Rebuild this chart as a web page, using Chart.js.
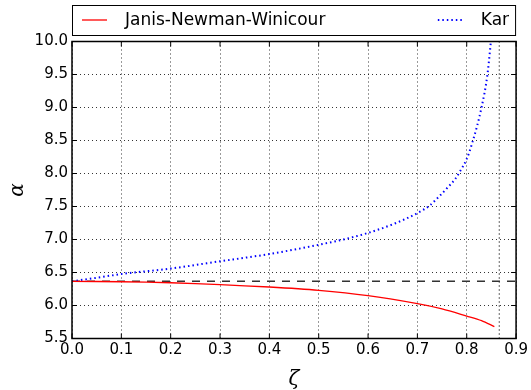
<!DOCTYPE html>
<html>
<head>
<meta charset="utf-8">
<script src="https://cdn.jsdelivr.net/npm/chart.js@4"></script>
<style>
  html, body { margin: 0; padding: 0; background: #fff; }
  #chart { display: block; }
</style>
</head>
<body>
<canvas id="chart" width="531" height="390"></canvas>
<script>
// values
const jnwZeta = [0, 0.1, 0.2, 0.3, 0.4, 0.5, 0.6, 0.7, 0.75, 0.8, 0.83, 0.856];
const jnwAlpha = [6.366, 6.36, 6.345, 6.315, 6.28, 6.23, 6.15, 6.03, 5.95, 5.84, 5.77, 5.68];

const karZeta = [0, 0.05, 0.1, 0.2, 0.3, 0.4, 0.5, 0.55, 0.6, 0.65, 0.7, 0.724, 0.747, 0.761, 0.776, 0.787, 0.8, 0.811, 0.83, 0.842, 0.849];
const karAlpha = [6.366, 6.42, 6.477, 6.56, 6.67, 6.78, 6.92, 7.0, 7.1, 7.23, 7.4, 7.51, 7.675, 7.785, 7.91, 8.04, 8.22, 8.46, 9.0, 9.5, 10.0];

const refLevel = 6.366;   // dashed horizontal line
const limitZeta = 0.866;  // dotted vertical line

const xTicks = [0, 0.1, 0.2, 0.3, 0.4, 0.5, 0.6, 0.7, 0.8, 0.9];
const yTicks = [5.5, 6.0, 6.5, 7.0, 7.5, 8.0, 8.5, 9.0, 9.5, 10.0];

const toPoints = (xs, ys) => xs.map((x, i) => ({ x, y: ys[i] }));

const tickFont = { family: 'DejaVu Sans', size: 15 };

// inward ticks on all four sides + full black frame
const framePlugin = {
  id: 'frame',
  afterDraw(chart) {
    const { ctx, chartArea: a, scales } = chart;
    ctx.save();
    ctx.strokeStyle = '#000';
    ctx.lineWidth = 1;
    const len = 5;
    xTicks.forEach(v => {
      const px = scales.x.getPixelForValue(v);
      ctx.beginPath();
      ctx.moveTo(px, a.bottom); ctx.lineTo(px, a.bottom - len);
      ctx.moveTo(px, a.top); ctx.lineTo(px, a.top + len);
      ctx.stroke();
    });
    yTicks.forEach(v => {
      const py = scales.y.getPixelForValue(v);
      ctx.beginPath();
      ctx.moveTo(a.left, py); ctx.lineTo(a.left + len, py);
      ctx.moveTo(a.right, py); ctx.lineTo(a.right - len, py);
      ctx.stroke();
    });
    ctx.lineWidth = 1.5;
    ctx.strokeRect(a.left, a.top, a.right - a.left, a.bottom - a.top);
    ctx.restore();
  }
};

// matplotlib-style expanded legend box above the plot
const legendPlugin = {
  id: 'boxLegend',
  afterDraw(chart) {
    const { ctx, chartArea: a } = chart;
    const items = chart.data.datasets.filter(d => d.label);
    const top = 5, h = 30, mid = top + h / 2;
    ctx.save();
    ctx.fillStyle = '#fff';
    ctx.fillRect(a.left, top, a.right - a.left, h);
    ctx.strokeStyle = '#000';
    ctx.lineWidth = 1;
    ctx.strokeRect(a.left + 0.5, top + 0.5, a.right - a.left - 1, h);
    ctx.font = '17px "DejaVu Sans"';
    ctx.textBaseline = 'middle';

    // first entry on the left, last entry pushed to the right edge
    const drawItem = (d, x0) => {
      ctx.strokeStyle = d.borderColor;
      ctx.lineWidth = d.borderWidth;
      ctx.setLineDash(d.borderDash || []);
      ctx.beginPath();
      ctx.moveTo(x0, mid); ctx.lineTo(x0 + 25, mid);
      ctx.stroke();
      ctx.setLineDash([]);
      ctx.fillStyle = '#000';
      ctx.fillText(d.label, x0 + 43, mid + 1);
    };
    drawItem(items[0], a.left + 10);
    const w = ctx.measureText(items[1].label).width;
    drawItem(items[1], a.right - 7 - w - 43);
    ctx.restore();
  }
};

const gridStyle = {
  color: '#000',
  lineWidth: 0.8,
  drawTicks: false,
};

new Chart(document.getElementById('chart'), {
  type: 'scatter',
  data: {
    datasets: [
      {
        label: 'Janis-Newman-Winicour',
        data: toPoints(jnwZeta, jnwAlpha),
        showLine: true,
        borderColor: '#ff0000',
        borderWidth: 1.3,
        pointRadius: 0,
        tension: 0.3,
      },
      {
        label: 'Kar',
        data: toPoints(karZeta, karAlpha),
        showLine: true,
        borderColor: '#0000ff',
        borderWidth: 2,
        borderDash: [1.5, 3],
        pointRadius: 0,
        cubicInterpolationMode: 'monotone',
      },
      {
        label: '',
        data: [{ x: 0, y: refLevel }, { x: 0.9, y: refLevel }],
        showLine: true,
        borderColor: '#333',
        borderWidth: 1.5,
        borderDash: [8, 7],
        pointRadius: 0,
      },
      {
        label: '',
        data: [{ x: limitZeta, y: 5.5 }, { x: limitZeta, y: 10 }],
        showLine: true,
        borderColor: '#000',
        borderWidth: 1.2,
        borderDash: [1, 3],
        pointRadius: 0,
      },
    ],
  },
  options: {
    responsive: false,
    animation: false,
    layout: { padding: { top: 41.5, right: 12, left: 0, bottom: 0 } },
    plugins: {
      legend: { display: false },
      tooltip: { enabled: false },
    },
    scales: {
      x: {
        type: 'linear',
        min: 0,
        max: 0.9,
        afterFit(scale) { scale.height = 51.5; },
        afterBuildTicks(scale) { scale.ticks = xTicks.map(v => ({ value: v })); },
        ticks: {
          color: '#000',
          font: tickFont,
          padding: 3,
          maxRotation: 0,
          callback: v => v.toFixed(1),
        },
        grid: gridStyle,
        border: { display: false, dash: [1, 3] },
        title: {
          display: true,
          text: 'ζ',
          color: '#000',
          font: { family: 'DejaVu Serif', size: 20, style: 'italic' },
          padding: { top: 2, bottom: -2 },
        },
      },
      y: {
        type: 'linear',
        min: 5.5,
        max: 10,
        afterFit(scale) { scale.width = 72; },
        afterBuildTicks(scale) { scale.ticks = yTicks.map(v => ({ value: v })); },
        ticks: {
          color: '#000',
          font: tickFont,
          padding: 4,
          callback: v => v.toFixed(1),
        },
        grid: gridStyle,
        border: { display: false, dash: [1, 3] },
        title: {
          display: true,
          text: 'α',
          color: '#000',
          font: { family: 'DejaVu Serif', size: 20, style: 'italic' },
          padding: { top: 6, bottom: 4 },
        },
      },
    },
  },
  plugins: [framePlugin, legendPlugin],
});
</script>
</body>
</html>
